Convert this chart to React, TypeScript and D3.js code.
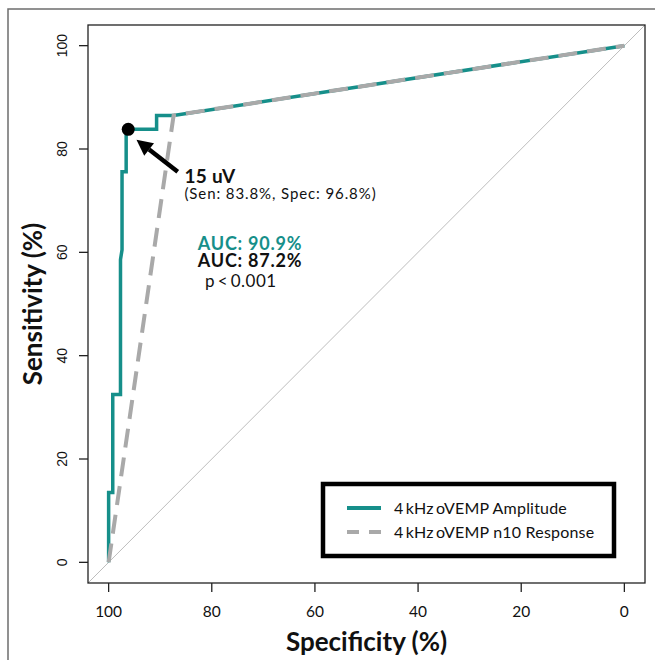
import React from 'react';
import * as d3 from 'd3';

// ROC curve for 4 kHz oVEMP amplitude (specificity %, sensitivity %)
const ampSpec = [100, 100, 99.2, 99.2, 97.7, 97.7, 97.4, 97.4, 96.6, 96.6, 90.7, 90.7, 87.4, 0];
const ampSens = [0, 13.5, 13.5, 32.5, 32.5, 58.6, 60.5, 75.6, 75.6, 83.8, 83.8, 86.5, 86.5, 100];

// ROC curve for 4 kHz oVEMP n10 response
const n10Spec = [100, 87.4, 0];
const n10Sens = [0, 86.5, 100];

const xTicks = [100, 80, 60, 40, 20, 0];
const yTicks = [0, 20, 40, 60, 80, 100];

// cut-off point highlighted on the amplitude curve
const cutPoint = [96.2, 83.8];

const legendLabels = ['4\u2009kHz\u2009oVEMP Amplitude', '4\u2009kHz\u2009oVEMP n10 Response'];

const TEAL = '#168f8a';
const GREY = '#a9a9a9';
const FONT = 'Lato, "Noto Sans", sans-serif';

export default function App() {
    const W = 655;
    const H = 660;
    const box = { left: 88, right: 645, top: 25, bottom: 583 };

    // R style 4% padding around data range
    const x = d3.scaleLinear().domain([104, -4]).range([box.left, box.right]);
    const y = d3.scaleLinear().domain([-4, 104]).range([box.bottom, box.top]);

    const line = d3
        .line<[number, number]>()
        .x((d) => x(d[0]))
        .y((d) => y(d[1]));

    const ampPts = ampSpec.map((s, i) => [s, ampSens[i]] as [number, number]);
    const n10Pts = n10Spec.map((s, i) => [s, n10Sens[i]] as [number, number]);

    // arrow pointing at the cut-off
    const tail = [x(86.6), y(75.6)];
    const tip = [x(94.6), y(81.8)];
    const ang = Math.atan2(tip[1] - tail[1], tip[0] - tail[0]);
    const headLen = 16;
    const headW = 8;
    const baseX = tip[0] - headLen * Math.cos(ang);
    const baseY = tip[1] - headLen * Math.sin(ang);
    const head = [
        [tip[0], tip[1]],
        [baseX + headW * Math.sin(ang), baseY - headW * Math.cos(ang)],
        [baseX - headW * Math.sin(ang), baseY + headW * Math.cos(ang)],
    ];

    const legend = { x: 323, y: 484, w: 291, h: 72 };

    return (
        <svg width={W} height={H} style={{ position: 'absolute', left: 0, top: 0, background: '#fff' }}>
            {/* figure frame, cut at the right and bottom */}
            <rect x={8} y={9} width={700} height={700} fill="none" stroke="#6d6d6d" strokeWidth={1.5} />

            <clipPath id="plotClip">
                <rect x={box.left} y={box.top} width={box.right - box.left} height={box.bottom - box.top} />
            </clipPath>

            {/* diagonal reference line */}
            <g clipPath="url(#plotClip)">
                <line x1={x(104)} y1={y(-4)} x2={x(-4)} y2={y(104)} stroke="#bdbdbd" strokeWidth={1} />
            </g>

            {/* curves */}
            <path d={line(ampPts) || ''} fill="none" stroke={TEAL} strokeWidth={3.5} strokeLinejoin="miter" />
            <path d={line(n10Pts) || ''} fill="none" stroke={GREY} strokeWidth={4} strokeDasharray="19,10" />

            {/* plot box */}
            <rect
                x={box.left}
                y={box.top}
                width={box.right - box.left}
                height={box.bottom - box.top}
                fill="none"
                stroke="#222"
                strokeWidth={1.3}
            />

            {/* x axis */}
            {xTicks.map((t) => (
                <g key={'x' + t}>
                    <line x1={x(t)} x2={x(t)} y1={box.bottom} y2={box.bottom + 9} stroke="#222" strokeWidth={1.3} />
                    <text x={x(t)} y={617} textAnchor="middle" fontFamily={FONT} fontSize={15.5} fill="#111">
                        {t}
                    </text>
                </g>
            ))}
            <text
                x={(box.left + box.right) / 2}
                y={651}
                textAnchor="middle"
                fontFamily={FONT}
                fontWeight="bold"
                fontSize={26}
                fill="#111"
            >
                Specificity (%)
            </text>

            {/* y axis */}
            {yTicks.map((t) => (
                <g key={'y' + t}>
                    <line x1={box.left - 9} x2={box.left} y1={y(t)} y2={y(t)} stroke="#222" strokeWidth={1.3} />
                    <text
                        transform={`translate(67,${y(t)}) rotate(-90)`}
                        textAnchor="middle"
                        fontFamily='"Liberation Sans", Arial, sans-serif'
                        fontSize={14}
                        fill="#111"
                    >
                        {t}
                    </text>
                </g>
            ))}
            <text
                transform={`translate(42,${(box.top + box.bottom) / 2}) rotate(-90)`}
                textAnchor="middle"
                fontFamily={FONT}
                fontWeight="bold"
                fontSize={26}
                fill="#111"
            >
                Sensitivity (%)
            </text>

            {/* cut-off annotation */}
            <circle cx={x(cutPoint[0])} cy={y(cutPoint[1])} r={6.5} fill="#000" />
            <line x1={tail[0]} y1={tail[1]} x2={baseX} y2={baseY} stroke="#000" strokeWidth={4.5} />
            <polygon points={head.map((p) => p.join(',')).join(' ')} fill="#000" />
            <text x={x(85.3)} y={y(73.5)} fontFamily={FONT} fontWeight="bold" fontSize={19} letterSpacing={0.3} fill="#111">
                15 uV
            </text>
            <text x={x(85.3)} y={y(70.4)} fontFamily={FONT} fontSize={15} letterSpacing={0.9} fill="#111">
                (Sen: 83.8%, Spec: 96.8%)
            </text>

            <text x={x(82.7)} y={y(60.5)} fontFamily={FONT} fontWeight="bold" fontSize={18} letterSpacing={0.75} fill={TEAL}>
                AUC: 90.9%
            </text>
            <text x={x(82.7)} y={y(57.1)} fontFamily={FONT} fontWeight="bold" fontSize={18} letterSpacing={0.75} fill="#111">
                AUC: 87.2%
            </text>
            <text x={x(81.3)} y={y(53.3)} fontFamily={FONT} fontSize={17} letterSpacing={0.5} fill="#111">
                p{'\u2009'}&lt;{'\u2009'}0.001
            </text>

            {/* legend */}
            <rect x={legend.x} y={legend.y} width={legend.w} height={legend.h} fill="#fff" stroke="#000" strokeWidth={4.5} />
            <line x1={legend.x + 24} x2={legend.x + 58} y1={legend.y + 24} y2={legend.y + 24} stroke={TEAL} strokeWidth={4} />
            <line
                x1={legend.x + 24}
                x2={legend.x + 58}
                y1={legend.y + 48}
                y2={legend.y + 48}
                stroke={GREY}
                strokeWidth={4}
                strokeDasharray="12,10"
            />
            {legendLabels.map((l, i) => (
                <text
                    key={l}
                    x={legend.x + 71}
                    y={legend.y + 29.5 + i * 24}
                    fontFamily={FONT}
                    fontSize={16}
                    letterSpacing={0.2}
                    fill="#111"
                >
                    {l}
                </text>
            ))}
        </svg>
    );
}
